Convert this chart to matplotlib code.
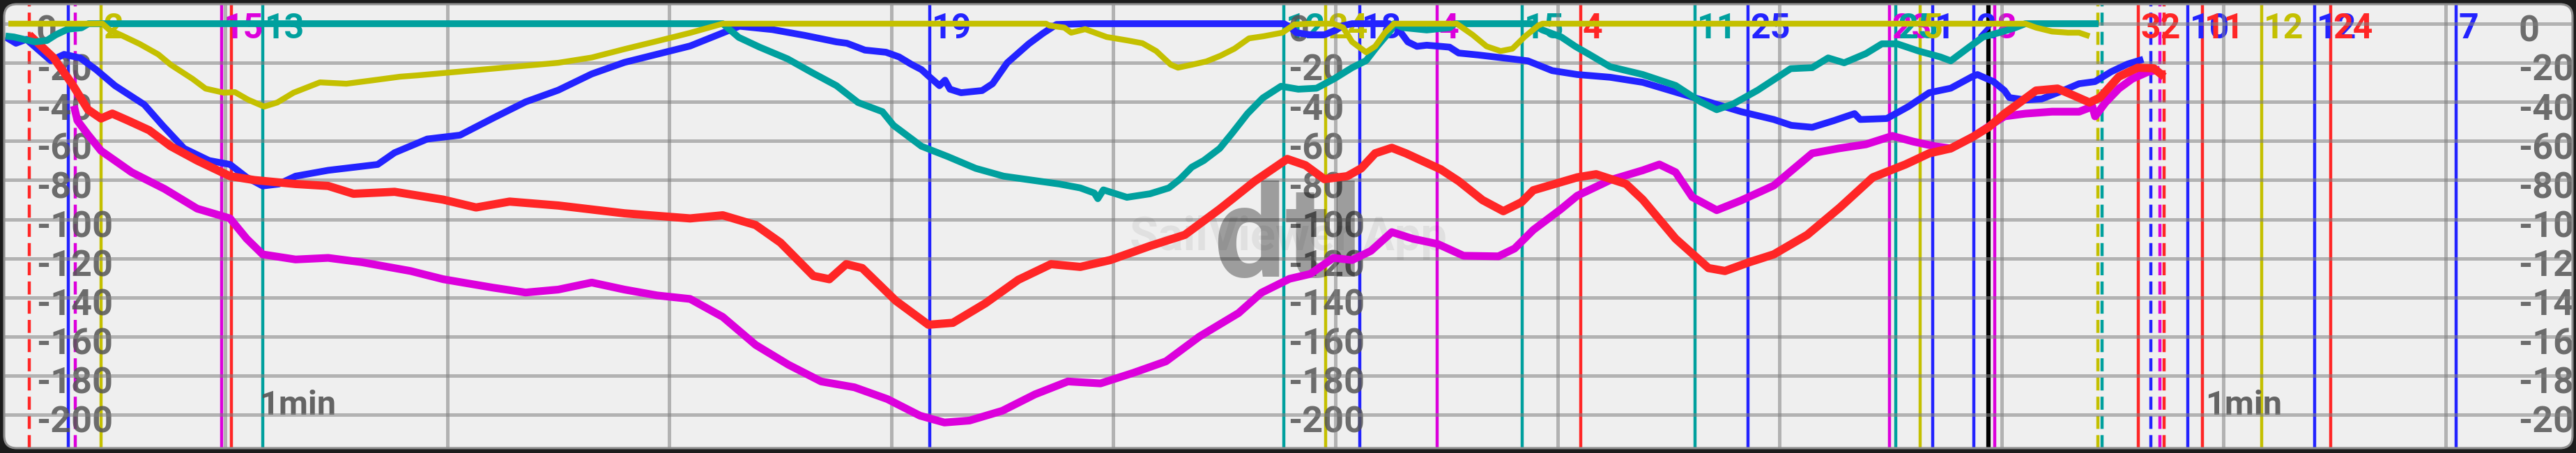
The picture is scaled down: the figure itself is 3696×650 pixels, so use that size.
import matplotlib
matplotlib.use('Agg')
import matplotlib.pyplot as plt
from matplotlib.patches import FancyBboxPatch
from matplotlib.transforms import IdentityTransform, offset_copy

plt.rcParams['font.family'] = ['Roboto', 'DejaVu Sans']

# ---------------- data (time in minutes, depth in metres) ----------------
red_t = [0.118, 0.228, 0.310, 0.382, 0.441, 0.492, 0.564, 0.658, 0.755, 0.874, 1.022, 1.132, 1.317,
         1.464, 1.578, 1.763, 1.982, 2.130, 2.281, 2.500, 2.798, 3.094, 3.241, 3.389, 3.501, 3.649,
         3.721, 3.797, 3.869, 4.020, 4.167, 4.277, 4.424, 4.572, 4.719, 4.851, 4.986, 5.165, 5.322,
         5.479, 5.636, 5.783, 5.865, 5.950, 6.053, 6.116, 6.179, 6.254, 6.317, 6.474, 6.556, 6.662,
         6.756, 6.838, 6.891, 7.089, 7.174, 7.309, 7.384, 7.532, 7.680, 7.754, 7.864, 7.974, 8.125,
         8.272, 8.420, 8.567, 8.674, 8.771, 8.869, 8.941, 9.013, 9.082, 9.155, 9.252, 9.324, 9.396,
         9.443, 9.528, 9.613, 9.685, 9.732]
red_d = [-5.7, -17.5, -30.7, -43.9, -48.5, -46, -49.6, -54.5, -62.7, -70, -78, -80, -82,
         -83, -87, -86, -90, -94, -91, -93, -97, -99.6, -98, -103, -112, -129,
         -130.7, -123, -125, -141.7, -154, -153, -143, -131, -123, -124.4, -120.9, -113.7, -108,
         -94.8, -80.6, -69.2, -72.4, -79.5, -78, -74, -66.3, -63.5, -66.3, -74.5, -80.6, -90.2,
         -95.9, -91.3, -85.2, -78.6, -77, -82, -90, -110, -125, -126.5, -122, -118, -108,
         -94, -78.6, -72, -66.3, -63.8, -58, -53, -46, -40.3, -34.2, -33.2, -36.7, -40.3,
         -37.8, -27.1, -22.5, -22.8, -27.1]

blue_t = [0.011, 0.058, 0.105, 0.215, 0.275, 0.347, 0.419, 0.504, 0.636, 0.718, 0.815, 0.928, 1.022,
          1.097, 1.169, 1.242, 1.317, 1.464, 1.687, 1.763, 1.910, 2.058, 2.205, 2.353, 2.500, 2.651,
          2.798, 2.946, 3.094, 3.241, 3.316, 3.464, 3.611, 3.753, 3.800, 3.881, 3.976, 4.035, 4.089,
          4.136, 4.170, 4.217, 4.242, 4.264, 4.314, 4.409, 4.456, 4.522, 4.619, 4.682, 4.744, 4.873,
          5.768, 5.799, 5.824, 5.887, 5.950, 6.003, 6.035, 6.075, 6.242, 6.286, 6.326, 6.367, 6.411,
          6.474, 6.514, 6.555, 6.643, 6.866, 6.976, 7.089, 7.237, 7.384, 7.532, 7.680, 7.827, 7.974,
          8.053, 8.147, 8.244, 8.338, 8.363, 8.483, 8.580, 8.674, 8.771, 8.869, 8.891, 8.963, 9.013,
          9.035, 9.107, 9.180, 9.277, 9.349, 9.421, 9.493, 9.566, 9.638]
blue_d = [-6.8, -10, -8, -18.9, -15.7, -17.5, -23.5, -31.7, -41.4, -52, -63.8, -70, -72,
          -78.6, -83, -82, -78, -75, -72, -66, -59, -57, -48.4, -40, -34, -25.7,
          -19.8, -15.6, -11.4, -4.7, -1.3, -3, -6, -9.3, -10, -13.5, -14.6, -17, -20.7,
          -23.5, -27, -31.7, -28.9, -33.5, -35.3, -34.2, -30.7, -20, -10.3, -5, -0.4, 0,
          0, -2, -4.6, -5.7, -5.7, -3.2, -1, 0, 0, -3.2, -9.3, -11.6, -11,
          -11.6, -12, -15, -16, -19, -24, -26, -27.4, -30, -35, -40, -45, -49,
          -52, -53, -49.6, -46, -49, -48.5, -42.4, -35.3, -33, -27, -26, -29.6, -34.2,
          -37.8, -39, -38.5, -34.2, -30.7, -29.6, -24.6, -20.7, -18.2]

teal_t = [0.011, 0.049, 0.143, 0.197, 0.237, 0.291, 0.353, 0.385, 3.241, 3.313, 3.407, 3.533, 3.643,
          3.753, 3.850, 3.960, 4.010, 4.136, 4.255, 4.380, 4.506, 4.631, 4.757, 4.851, 4.914, 4.930,
          4.955, 5.061, 5.165, 5.250, 5.300, 5.353, 5.407, 5.479, 5.535, 5.604, 5.673, 5.755, 5.833,
          5.915, 5.994, 6.075, 6.138, 6.188, 6.251, 6.264, 6.305, 6.411, 6.515, 6.537, 6.882, 6.932,
          7.017, 7.080, 7.143, 7.237, 7.384, 7.532, 7.645, 7.717, 7.792, 7.902, 8.050, 8.147, 8.219,
          8.291, 8.389, 8.461, 8.530, 8.627, 8.724, 8.771, 8.844, 8.916, 8.988, 9.060, 9.107, 9.437]
teal_d = [-6.3, -6.8, -9.3, -8.6, -5.7, -2.8, -2.1, 0, 0, -7, -12, -18, -25,
          -31.7, -40.3, -45, -52, -62.7, -68, -74, -78, -80, -82, -84, -86.6, -89.5,
          -85, -88.8, -87, -84, -79.5, -73.4, -70, -63.8, -56, -46, -38, -32, -33.5,
          -33, -28.2, -22.5, -18.9, -11.6, -3.2, 0, -2, -3.2, -2, 0, 0, -3.2,
          -6.8, -11.6, -15.7, -22, -26, -31.6, -40, -44, -41, -34, -23, -22.5, -17.5,
          -20, -15.3, -10.3, -10.3, -14, -17, -19, -12.8, -6.8, -4.6, -2.1, 0, 0]

magenta_t = [0.319, 0.335, 0.382, 0.441, 0.579, 0.727, 0.874, 1.022, 1.097, 1.169, 1.317, 1.464, 1.615,
             1.835, 1.982, 2.205, 2.353, 2.500, 2.651, 2.798, 2.946, 3.094, 3.241, 3.389, 3.536, 3.684,
             3.834, 3.982, 4.129, 4.239, 4.352, 4.500, 4.647, 4.795, 4.942, 5.090, 5.237, 5.388, 5.564,
             5.667, 5.793, 5.887, 5.991, 6.075, 6.160, 6.254, 6.348, 6.461, 6.577, 6.734, 6.807, 6.891,
             7.014, 7.089, 7.237, 7.384, 7.459, 7.532, 7.607, 7.717, 7.827, 7.974, 8.147, 8.266, 8.389,
             8.508, 8.602, 8.700, 8.771, 8.869, 8.963, 9.013, 9.107, 9.227, 9.349, 9.409, 9.421, 9.468,
             9.528, 9.588, 9.660, 9.713]
magenta_d = [-42, -49.6, -56.7, -65, -76, -84.5, -94.6, -99.6, -110, -118, -120.6, -119.8, -122,
             -126.5, -130.7, -135, -137.5, -136, -132.4, -136, -139, -140.8, -150, -164.3, -174.4, -183,
             -186, -192, -200.5, -204, -203, -198, -189.6, -183, -184, -178.6, -172.7, -160, -148,
             -137.6, -130.5, -128, -119.8, -120.9, -116.2, -106.6, -110, -112.7, -118.7, -119, -115, -105.5,
             -95, -88, -80, -75, -72, -76, -88.7, -95.4, -90.4, -82.8, -66.3, -63.8, -61.7,
             -57.4, -60.3, -62.7, -63.8, -58, -51, -47.4, -46, -45, -45, -42.4, -47.4, -40.3,
             -33.2, -28.2, -24.6, -23.5]

yellow_t = [0.024, 0.448, 0.479, 0.529, 0.614, 0.699, 0.755, 0.853, 0.912, 0.994, 1.044, 1.104, 1.176,
            1.235, 1.308, 1.427, 1.546, 1.669, 1.788, 1.869, 2.205, 2.500, 2.651, 2.798, 2.946, 3.094,
            3.241, 4.697, 4.713, 4.779, 4.810, 4.873, 4.970, 5.065, 5.131, 5.193, 5.259, 5.291, 5.353,
            5.419, 5.482, 5.545, 5.611, 5.677, 5.761, 5.815, 5.887, 5.991, 6.035, 6.075, 6.138, 6.179,
            6.223, 6.264, 6.546, 6.618, 6.681, 6.744, 6.797, 6.851, 6.913, 6.932, 9.107, 9.155, 9.227,
            9.299, 9.349, 9.396]
yellow_d = [0, 0, -3.2, -5.7, -10.3, -15.7, -21, -28.2, -33.2, -35.3, -35, -38.9, -42.4,
            -40.3, -35.3, -30, -30.7, -28.9, -27.1, -26.4, -23, -20, -17.3, -13, -8.9, -4.7,
            0, 0, -1, -2, -4.6, -2.8, -6.8, -8.6, -10, -14, -21, -22.5, -21,
            -19.3, -16.4, -12.8, -7.5, -6.4, -4.6, -0.4, 0, 0, -2, -9.3, -14.6, -11.6,
            -4.6, 0, 0, -5.7, -11.6, -14, -12.8, -6.8, -1, 0, 0, -2, -4,
            -4.6, -4.6, -6.4]

# event markers: time, colour key, style, label
marker_t = [0.118, 0.294, 0.325, 0.441, 0.984, 1.028, 1.169, 4.173, 5.768, 5.956, 6.110, 6.458,
            6.841, 7.105, 7.620, 7.858, 8.495, 8.524, 8.633, 8.690, 8.875, 8.941, 8.969, 9.434,
            9.453, 9.616, 9.672, 9.713, 9.732, 9.839, 9.905, 10.171, 10.410, 10.482, 11.047]
marker_c = ['red', 'blue', 'magenta', 'yellow', 'magenta', 'red', 'teal', 'blue', 'teal', 'yellow',
            'blue', 'magenta', 'teal', 'red', 'teal', 'blue', 'magenta', 'teal', 'yellow', 'blue',
            'blue', 'black', 'magenta', 'yellow', 'teal', 'red', 'blue', 'magenta', 'red', 'blue',
            'red', 'yellow', 'blue', 'red', 'blue']
marker_dashed = [True, False, True, False, False, False, False, False, False, False,
                 False, False, False, False, False, False, False, False, False, False,
                 False, False, False, True, True, False, True, True, True, False,
                 False, False, False, False, False]
marker_label = ['', '', '', '2', '15', '', '13', '19', '12', '24', '18', '4', '15', '4', '11', '25',
                '23', '25', '5', '1', '2', '', '8', '', '', '32', '', '', '', '10', '11', '12', '12',
                '24', '7']

depth_ticks = [0, -20, -40, -60, -80, -100, -120, -140, -160, -180, -200]
tick_label_t = [0.149, 5.787, 11.327]
scale_label_t = [1.154, 9.917]
scale_text = '1min'
minute_grid = [1, 2, 3, 4, 5, 6, 7, 8, 9, 10, 11]

COL = {'red': '#ff2626', 'blue': '#2323ff', 'magenta': '#dc00dc', 'yellow': '#c4c000',
       'teal': '#00a09e', 'black': '#000000'}

# ---------------- figure ----------------
W, H = 3696, 650
fig = plt.figure(figsize=(W / 100, H / 100), dpi=100, facecolor='#1c1c1c')
bg = FancyBboxPatch((6, 7), 3685, 637, boxstyle='round,pad=0,rounding_size=18',
                    transform=IdentityTransform(), facecolor='#efefef', edgecolor='none', zorder=-5)
fig.add_artist(bg)
border = FancyBboxPatch((6, 7), 3685, 637, boxstyle='round,pad=0,rounding_size=18',
                        transform=IdentityTransform(), facecolor='none', edgecolor='#8e8e8e',
                        linewidth=2.2, zorder=20)
fig.add_artist(border)

ax = fig.add_axes([6 / W, 7 / H, 3685 / W, 637 / H])
ax.set_facecolor('none')
ax.set_xlim(0.005, 11.571)
ax.set_ylim(-217.1, 9.98)
ax.axis('off')

# markers
lab_tr = offset_copy(ax.transData, fig=fig, x=3, y=0, units='dots')
for t, c, dsh, lab in zip(marker_t, marker_c, marker_dashed, marker_label):
    lw = 4.5 if c == 'black' else 3.2
    ls = (0, (4.2, 2.0)) if dsh else '-'
    ax.axvline(t, color=COL[c], lw=lw, linestyle=ls, zorder=2)
    if lab:
        ax.text(t, -7.5, lab, transform=lab_tr, color=COL[c], fontsize=36, fontweight='bold',
                ha='left', va='baseline', zorder=3)

# tick labels
for tx in tick_label_t:
    for v in depth_ticks:
        ax.text(tx, v - 9.2, str(v), color='#555555', alpha=0.85, fontsize=37.5,
                fontweight='bold', ha='left', va='baseline', zorder=3, clip_on=True)

for tx in scale_label_t:
    ax.text(tx, -200, scale_text, color='#555555', alpha=0.9, fontsize=35, fontweight='bold',
            ha='left', va='baseline', zorder=3)

# grid
for t in minute_grid:
    ax.axvline(t, color='#808080', alpha=0.55, lw=3.6, zorder=4)
for v in depth_ticks:
    ax.axhline(v, color='#808080', alpha=0.55, lw=3.6, zorder=4)

# watermark
ax.text(5.787, -116, 'SailViewer App', color='black', alpha=0.06, fontsize=48, fontweight='bold',
        ha='center', va='baseline', zorder=4.5)
ax.text(5.787, -129.4, 'dtl', color='black', alpha=0.34, fontsize=132, fontweight='bold',
        ha='center', va='baseline', zorder=4.6)

# profiles
profiles = [(magenta_t, magenta_d, 'magenta', 8.0), (blue_t, blue_d, 'blue', 7.0),
            (red_t, red_d, 'red', 8.5), (teal_t, teal_d, 'teal', 7.0),
            (yellow_t, yellow_d, 'yellow', 6.0)]
for i, (tt, dd, c, lw) in enumerate(profiles):
    ax.plot(tt, dd, color=COL[c], lw=lw, solid_joinstyle='round', solid_capstyle='butt',
            zorder=5 + i * 0.1)

fig.savefig('out.png', dpi=100, facecolor=fig.get_facecolor())
